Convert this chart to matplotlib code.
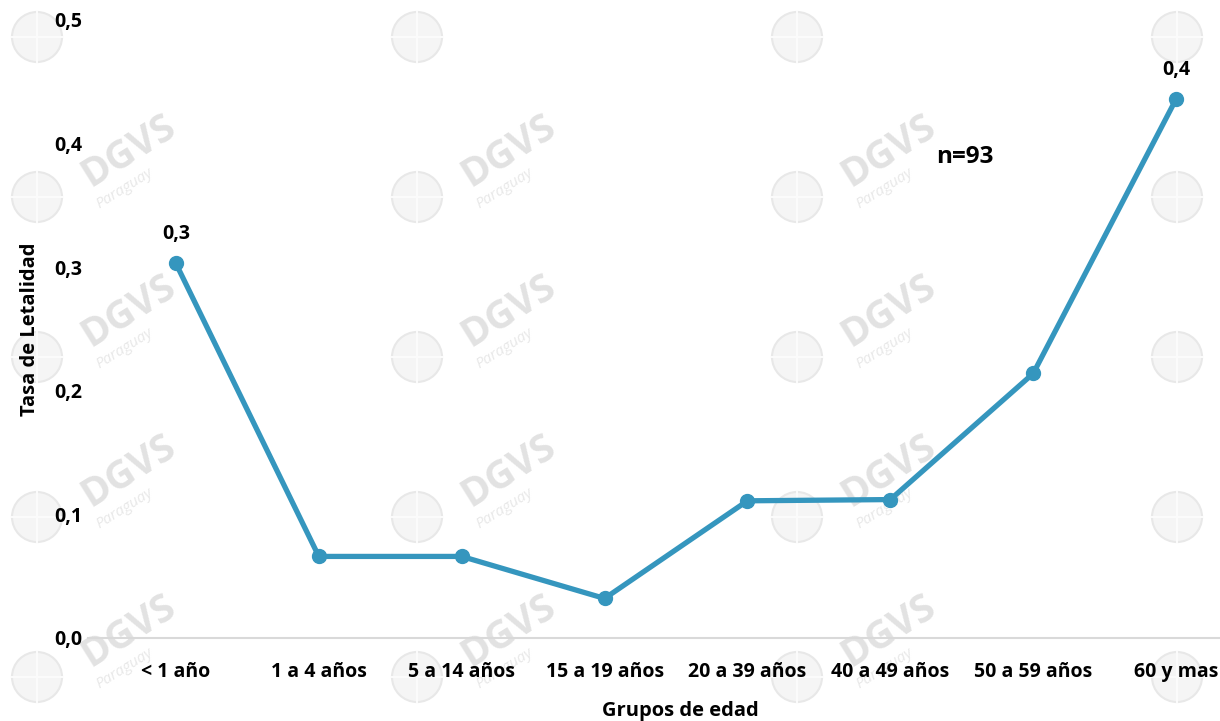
import matplotlib
matplotlib.use("Agg")
import matplotlib.pyplot as plt
from matplotlib.patches import Circle

plt.rcParams['font.family'] = ['Open Sans', 'DejaVu Sans']

# datos
grupos = ['< 1 año', '1 a 4 años', '5 a 14 años', '15 a 19 años',
          '20 a 39 años', '40 a 49 años', '50 a 59 años', '60 y mas']
tasa = [0.303, 0.066, 0.066, 0.032, 0.111, 0.112, 0.214, 0.436]
etiquetas = {0: '0,3', 7: '0,4'}
y_ticks = [0.0, 0.1, 0.2, 0.3, 0.4, 0.5]
y_tick_labels = ['0,0', '0,1', '0,2', '0,3', '0,4', '0,5']

color_linea = '#3596BE'

fig = plt.figure(figsize=(12.2, 7.21), dpi=100)

# marca de agua (DGVS Paraguay) en un eje de fondo, en pixeles
bg = fig.add_axes([0, 0, 1, 1], zorder=-1)
bg.set_xlim(0, 1220)
bg.set_ylim(721, 0)
bg.axis('off')
wm_cols = [37, 417, 797, 1177]
wm_rows = [37, 197, 357, 517, 677]
for cx in wm_cols:
    for cy in wm_rows:
        bg.add_patch(Circle((cx, cy), 25, facecolor='#f5f5f5',
                            edgecolor='#e8e8e8', lw=1.5))
        bg.plot([cx - 25, cx + 25], [cy, cy], color='#fbfbfb', lw=1.5)
        bg.plot([cx, cx], [cy - 25, cy + 25], color='#fbfbfb', lw=1.5)
        if cx + 160 > 1220 or cy - 46 < 40:
            continue
        bg.text(cx + 92, cy - 46, 'DGVS', fontsize=28, fontweight='bold',
                color='#e2e2e2', rotation=32, ha='center', va='center')
        bg.text(cx + 88, cy - 8, 'Paraguay', fontsize=11, style='italic',
                color='#e8e8e8', rotation=32, ha='center', va='center')

# area de trazado: 0 en y=638, 0,5 en y=20; primer punto x=176
left_px, right_px = 88, 1272
ax = fig.add_axes([left_px / 1220, (721 - 638) / 721,
                   (right_px - left_px) / 1220, (638 - 20) / 721])
ax.patch.set_alpha(0)

x = list(range(len(grupos)))
ax.plot(x, tasa, color=color_linea, lw=3.8, marker='o', markersize=10,
        solid_capstyle='round', zorder=3)

for i, txt in etiquetas.items():
    ax.annotate(txt, (x[i], tasa[i]), xytext=(0, 14), textcoords='offset points',
                ha='center', va='bottom', fontsize=14, fontweight='bold')

ax.set_xlim(-(176 - left_px) / 143, 7 + (right_px - 1176) / 143)
ax.set_ylim(0, 0.5)
ax.set_xticks(x)
ax.set_xticklabels(grupos, fontsize=14, fontweight='bold')
ax.set_yticks(y_ticks)
ax.set_yticklabels(y_tick_labels, fontsize=14, fontweight='bold')
ax.tick_params(axis='both', length=0)
ax.tick_params(axis='x', pad=17)
ax.tick_params(axis='y', pad=4)

for s in ['top', 'right', 'left']:
    ax.spines[s].set_visible(False)
ax.spines['bottom'].set_color('#d9d9d9')
ax.spines['bottom'].set_linewidth(1.5)

ax.set_xlabel('Grupos de edad', fontsize=14.5, fontweight='bold', labelpad=14)
ax.set_ylabel('Tasa de Letalidad', fontsize=14.5, fontweight='bold', labelpad=10)

fig.text(965 / 1220, 1 - 157 / 721, 'n=93', fontsize=17.5, fontweight='bold',
         ha='center', va='center')

fig.savefig('out.png', dpi=100, facecolor='white')
